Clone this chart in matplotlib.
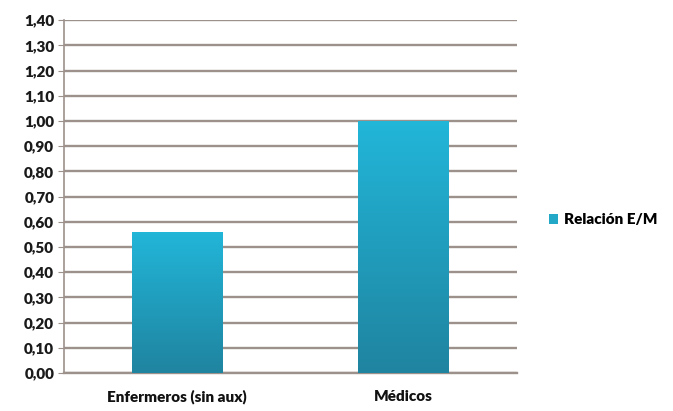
import matplotlib.pyplot as plt
import numpy as np
from matplotlib.colors import LinearSegmentedColormap

categorias = ["Enfermeros (sin aux)", "Médicos"]
relacion = [0.56, 1.00]
serie = "Relación E/M"
yticks = [i / 10 for i in range(0, 15)]

plt.rcParams['font.family'] = ['Lato', 'DejaVu Sans']

fig = plt.figure(figsize=(6.73, 4.11), dpi=100)
ax = fig.add_axes([0.095, 0.0925, 0.673, 0.8585])

grid_color = "#9c918b"
bars = ax.bar(range(len(categorias)), relacion, width=0.4, color="#23a8c8",
              label=serie, zorder=2)

# vertical gradient inside each bar
cmap = LinearSegmentedColormap.from_list("azul", ["#1f84a0", "#22b6d9"])
grad = np.linspace(0, 1, 256).reshape(-1, 1)
for b in bars:
    x0, w, h = b.get_x(), b.get_width(), b.get_height()
    im = ax.imshow(grad, cmap=cmap, origin="lower", aspect="auto",
                   extent=[x0, x0 + w, 0, h], zorder=3)
    im.set_clip_path(b)

ax.set_xlim(-0.5, 1.5)
ax.set_ylim(0, 1.4)
ax.set_yticks(yticks)
ax.set_yticklabels([f"{v:.2f}".replace(".", ",") for v in yticks],
                   fontsize=11, fontweight="heavy", color="#1a1a1a")
ax.set_xticks(range(len(categorias)))
ax.set_xticklabels(categorias, fontsize=11, fontweight="heavy", color="#111111")
ax.tick_params(axis="x", length=0, pad=12)
ax.tick_params(axis="y", length=4, color=grid_color, pad=3)
ax.yaxis.grid(True, color=grid_color, linewidth=1.7, zorder=0)
ax.set_axisbelow(True)
for s in ["top", "right"]:
    ax.spines[s].set_visible(False)
ax.spines["left"].set_color(grid_color)
ax.spines["left"].set_linewidth(1.2)
ax.spines["bottom"].set_color(grid_color)
ax.spines["bottom"].set_linewidth(1.7)

leg = fig.legend(handles=[bars], labels=[serie], loc="center left",
                 bbox_to_anchor=(0.795, 0.465), frameon=False,
                 prop={"weight": "heavy", "size": 11},
                 handlelength=0.6, handleheight=0.6, handletextpad=0.4)

fig.savefig("out.png", dpi=100)
